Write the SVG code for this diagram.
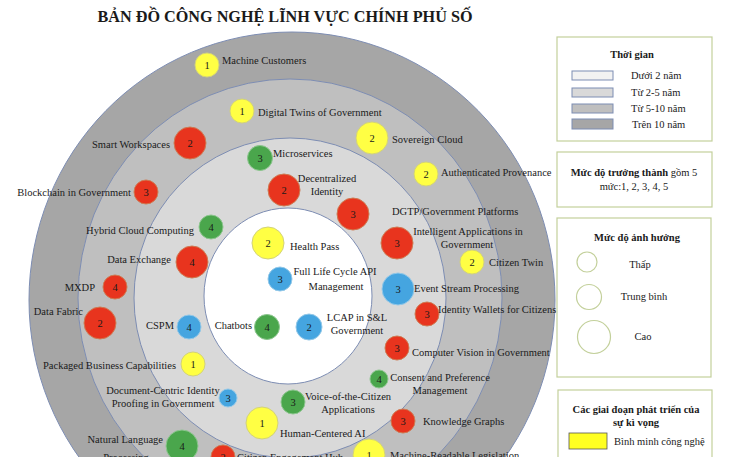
<svg xmlns="http://www.w3.org/2000/svg" width="730" height="457" viewBox="0 0 730 457">
<style>
text{font-family:"Liberation Serif","Times New Roman",serif;fill:#1a1a1a;}
.title{font-size:17px;font-weight:bold;}
.lbl{font-size:10.5px;}
.m{text-anchor:middle;}
.e{text-anchor:end;}
.num{font-size:10.5px;text-anchor:middle;}
.ring{stroke:#7d8db3;stroke-width:1;}
.Y{fill:#ffff44;stroke:#d2d27a;stroke-width:1;}
.R{fill:#e8341e;stroke:#cf7a52;stroke-width:1;}
.G{fill:#4aa64c;stroke:#8cc68e;stroke-width:1;}
.B{fill:#45a5e0;stroke:#93c8e8;stroke-width:1;}
.box{fill:#fff;stroke:#c3d09b;stroke-width:1.2;}
.lg{font-size:10.5px;}
.lgb{font-size:10.5px;font-weight:bold;}
.sw{stroke:#7d8db3;stroke-width:1;}
.imp{fill:#fff;stroke:#c3d09b;stroke-width:1.2;}
</style>
<rect width="730" height="457" fill="#fff"/>
<text class="title m" x="285" y="22" textLength="375" lengthAdjust="spacingAndGlyphs">BẢN ĐỒ CÔNG NGHỆ LĨNH VỰC CHÍNH PHỦ SỐ</text>

<g id="rings">
<ellipse class="ring" cx="292" cy="300" rx="263" ry="268" fill="#a6a6a6"/>
<ellipse class="ring" cx="290" cy="298" rx="212" ry="219" fill="#bfbfbf"/>
<ellipse class="ring" cx="290" cy="298" rx="156" ry="160" fill="#d9d9d9"/>
<ellipse class="ring" cx="288" cy="296" rx="84" ry="88" fill="#ffffff"/>
</g>

<g id="connectors"></g>

<g id="machine-customers"><circle class="Y" cx="207" cy="65" r="12"/><text class="num" x="207" y="69">1</text><text class="lbl" x="222" y="64">Machine Customers</text></g>
<g id="digital-twins"><circle class="Y" cx="242" cy="111" r="12"/><text class="num" x="242" y="115">1</text><text class="lbl" x="258" y="116">Digital Twins of Government</text></g>
<g id="smart-workspaces"><circle class="R" cx="190" cy="143" r="16"/><text class="num" x="190" y="147">2</text><text class="lbl e" x="170" y="148">Smart Workspaces</text></g>
<g id="blockchain"><circle class="R" cx="146" cy="192" r="12"/><text class="num" x="146" y="196">3</text><text class="lbl e" x="131" y="196">Blockchain in Government</text></g>
<g id="sovereign-cloud"><circle class="Y" cx="372" cy="138" r="16"/><text class="num" x="372" y="142">2</text><text class="lbl" x="392" y="143">Sovereign Cloud</text></g>
<g id="authenticated-provenance"><circle class="Y" cx="426" cy="174" r="12"/><text class="num" x="426" y="178">2</text><text class="lbl" x="441" y="176">Authenticated Provenance</text></g>
<g id="microservices"><circle class="G" cx="260" cy="158" r="12.5"/><text class="num" x="260" y="162">3</text><text class="lbl" x="273" y="157">Microservices</text></g>
<g id="decentralized-identity"><circle class="R" cx="284" cy="190" r="16"/><text class="num" x="284" y="194">2</text><text class="lbl m" x="327" y="182">Decentralized</text><text class="lbl m" x="327" y="195">Identity</text></g>
<g id="dgtp"><circle class="R" cx="353" cy="214" r="16"/><text class="num" x="353" y="218">3</text><text class="lbl" x="392" y="215">DGTP/Government Platforms</text></g>
<g id="intelligent-applications"><circle class="R" cx="397" cy="243" r="16"/><text class="num" x="397" y="247">3</text><text class="lbl m" x="468" y="235">Intelligent Applications in</text><text class="lbl m" x="467" y="248">Government</text></g>
<g id="citizen-twin"><circle class="Y" cx="472" cy="262" r="12"/><text class="num" x="472" y="266">2</text><text class="lbl" x="489" y="266">Citizen Twin</text></g>
<g id="health-pass"><circle class="Y" cx="268" cy="243" r="16"/><text class="num" x="268" y="247">2</text><text class="lbl" x="290" y="250">Health Pass</text></g>
<g id="full-life-cycle-api"><circle class="B" cx="280" cy="279" r="12"/><text class="num" x="280" y="283">3</text><text class="lbl m" x="335" y="275">Full Life Cycle API</text><text class="lbl m" x="336" y="290">Management</text></g>
<g id="event-stream"><circle class="B" cx="398" cy="289" r="16"/><text class="num" x="398" y="293">3</text><text class="lbl" x="414" y="292">Event Stream Processing</text></g>
<g id="identity-wallets"><circle class="R" cx="427" cy="314" r="12"/><text class="num" x="427" y="318">3</text><text class="lbl" x="438" y="313">Identity Wallets for Citizens</text></g>
<g id="chatbots"><circle class="G" cx="267" cy="327" r="12.5"/><text class="num" x="267" y="331">4</text><text class="lbl e" x="252" y="329">Chatbots</text></g>
<g id="lcap"><circle class="B" cx="309" cy="327" r="13"/><text class="num" x="309" y="331">2</text><text class="lbl m" x="357" y="321">LCAP in S&amp;L</text><text class="lbl m" x="357" y="334">Government</text></g>
<g id="hybrid-cloud"><circle class="G" cx="211" cy="227" r="12"/><text class="num" x="211" y="231">4</text><text class="lbl e" x="194" y="234">Hybrid Cloud Computing</text></g>
<g id="data-exchange"><circle class="R" cx="192" cy="262" r="16"/><text class="num" x="192" y="266">4</text><text class="lbl e" x="171" y="263">Data Exchange</text></g>
<g id="mxdp"><circle class="R" cx="115" cy="287" r="12"/><text class="num" x="115" y="291">4</text><text class="lbl e" x="95" y="291">MXDP</text></g>
<g id="data-fabric"><circle class="R" cx="100" cy="323" r="16"/><text class="num" x="100" y="327">2</text><text class="lbl e" x="83" y="315">Data Fabric</text></g>
<g id="cspm"><circle class="B" cx="189" cy="327" r="12"/><text class="num" x="189" y="331">4</text><text class="lbl e" x="174" y="329">CSPM</text></g>
<g id="packaged-business"><circle class="Y" cx="193" cy="364" r="12"/><text class="num" x="193" y="368">1</text><text class="lbl e" x="176" y="369">Packaged Business Capabilities</text></g>
<g id="document-centric"><circle class="B" cx="228" cy="398" r="9"/><text class="num" x="228" y="402">3</text><text class="lbl m" x="163" y="394">Document-Centric Identity</text><text class="lbl m" x="163" y="407">Proofing in Government</text></g>
<g id="human-centered-ai"><circle class="Y" cx="262" cy="423" r="16"/><text class="num" x="262" y="427">1</text><text class="lbl" x="280" y="437">Human-Centered AI</text></g>
<g id="natural-language"><circle class="G" cx="182" cy="446" r="16"/><text class="num" x="182" y="450">4</text><text class="lbl e" x="163" y="443">Natural Language</text><text class="lbl m" x="126" y="461">Processing</text></g>
<g id="voice-of-citizen"><circle class="G" cx="293" cy="402" r="12"/><text class="num" x="293" y="406">3</text><text class="lbl m" x="348" y="400">Voice-of-the-Citizen</text><text class="lbl m" x="348" y="413">Applications</text></g>
<g id="computer-vision"><circle class="R" cx="397" cy="348" r="12"/><text class="num" x="397" y="352">3</text><text class="lbl" x="412" y="356">Computer Vision in Government</text></g>
<g id="consent-preference"><circle class="G" cx="379" cy="379" r="9"/><text class="num" x="379" y="383">4</text><text class="lbl m" x="440" y="381">Consent and Preference</text><text class="lbl m" x="440" y="394">Management</text></g>
<g id="knowledge-graphs"><circle class="R" cx="403" cy="421" r="12"/><text class="num" x="403" y="425">3</text><text class="lbl" x="423" y="425">Knowledge Graphs</text></g>
<g id="machine-readable"><circle class="Y" cx="369" cy="455" r="16"/><text class="num" x="369" y="459">1</text><text class="lbl" x="390" y="459">Machine-Readable Legislation</text></g>
<g id="citizen-engagement"><circle class="R" cx="223" cy="457" r="12"/><text class="num" x="223" y="461">2</text><text class="lbl" x="237" y="461">Citizen Engagement Hub</text></g>

<g id="legend-time">
<rect class="box" x="557" y="37" width="155" height="104"/>
<text class="lgb m" x="632" y="58">Thời gian</text>
<rect class="sw" x="572" y="71" width="41" height="9" fill="#f2f2f2"/>
<rect class="sw" x="572" y="88" width="41" height="9" fill="#d9d9d9"/>
<rect class="sw" x="572" y="104" width="41" height="9" fill="#bfbfbf"/>
<rect class="sw" x="572" y="119" width="41" height="10" fill="#a6a6a6"/>
<text class="lg" x="631" y="79">Dưới 2 năm</text>
<text class="lg" x="631" y="96">Từ 2-5 năm</text>
<text class="lg" x="631" y="112">Từ 5-10  năm</text>
<text class="lg" x="632" y="128">Trên 10 năm</text>
</g>
<g id="legend-maturity">
<rect class="box" x="557" y="152" width="155" height="55"/>
<text class="lg m" x="634" y="176"><tspan font-weight="bold">Mức độ trưởng thành</tspan> gồm 5</text>
<text class="lg m" x="634" y="190">mức:1, 2, 3, 4, 5</text>
</g>
<g id="legend-impact">
<rect class="box" x="557" y="218" width="154" height="159"/>
<text class="lgb m" x="637" y="241">Mức độ ảnh hưởng</text>
<circle class="imp" cx="587" cy="262" r="10"/>
<circle class="imp" cx="589" cy="297" r="12.5"/>
<circle class="imp" cx="594" cy="337" r="16.5"/>
<text class="lg m" x="640" y="268">Thấp</text>
<text class="lg m" x="644" y="300">Trung bình</text>
<text class="lg m" x="643" y="340">Cao</text>
</g>
<g id="legend-stages">
<rect class="box" x="558" y="390" width="154" height="80"/>
<text class="lgb m" x="636" y="413">Các giai đoạn phát triển của</text>
<text class="lgb m" x="636" y="426">sự kì vọng</text>
<rect x="569" y="433" width="38" height="16" fill="#ffff22" stroke="#555" stroke-width="0.8"/>
<text class="lg" x="614" y="445">Bình minh công nghệ</text>
</g>
</svg>
